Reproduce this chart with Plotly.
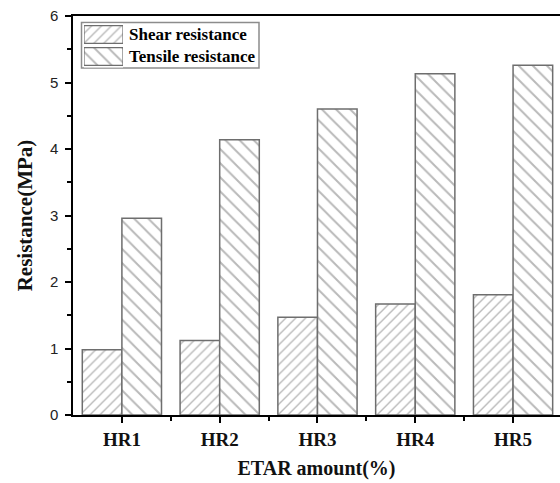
import plotly.graph_objects as go

# Resistance measured for each ETAR dosage
categories = ["HR1", "HR2", "HR3", "HR4", "HR5"]
series_names = ["Shear resistance", "Tensile resistance"]
shear = [0.98, 1.12, 1.47, 1.67, 1.81]
tensile = [2.96, 4.14, 4.60, 5.13, 5.26]
y_ticks = [0, 1, 2, 3, 4, 5, 6]

W, H = 560, 483
ML, MR, MT, MB = 73, 0, 16, 68
PW, PH = W - ML - MR, H - MT - MB

SERIF = "Liberation Serif"
SANS = "Liberation Sans"
EDGE = "#6e6e6e"
HATCH = "#747474"

styles = [
    dict(shape="/", size=7),
    dict(shape="\\", size=10),
]

idx = list(range(len(categories)))

fig = go.Figure()
for name, vals, st in zip(series_names, [shear, tensile], styles):
    fig.add_bar(
        x=idx, y=vals, name=name, showlegend=False,
        marker=dict(
            color="white",
            line=dict(color=EDGE, width=1.5),
            pattern=dict(shape=st["shape"], fgcolor=HATCH, bgcolor="white",
                         size=st["size"], solidity=0.2),
        ),
        xaxis="x", yaxis="y",
    )

# Legend swatches: wide hatched boxes drawn on a small inset axis
def px_x(p):
    return (p - ML) / PW


def px_y(p):
    return (H - MB - p) / PH


for i, (name, st) in enumerate(zip(series_names, styles)):
    fig.add_bar(
        x=[1], y=[i], base=0, orientation="h", width=0.8, showlegend=False,
        hoverinfo="skip",
        marker=dict(
            color="white",
            line=dict(color=EDGE, width=1.2),
            pattern=dict(shape=st["shape"], fgcolor=HATCH, bgcolor="white",
                         size=st["size"], solidity=0.2),
        ),
        xaxis="x2", yaxis="y2",
    )
    fig.add_annotation(
        xref="paper", yref="paper", x=px_x(127), y=px_y(34 + i * 22.5),
        xanchor="left", yanchor="middle", showarrow=False, text=name,
        font=dict(family=SERIF, size=17, color="black", weight="bold"),
    )

fig.add_shape(
    type="rect", xref="paper", yref="paper", layer="below",
    x0=px_x(81.5), x1=px_x(259), y0=px_y(68), y1=px_y(22.5),
    line=dict(color="#8c8c8c", width=1.5), fillcolor="white",
)

fig.update_layout(
    width=W, height=H,
    margin=dict(l=ML, r=MR, t=MT, b=MB, pad=0),
    paper_bgcolor="white", plot_bgcolor="white",
    barmode="group", bargap=0.19, bargroupgap=0,
    showlegend=False,
    xaxis=dict(
        range=[-0.5, 4.48], tickmode="array", tickvals=idx, ticktext=categories,
        ticks="outside", ticklen=6, tickwidth=1.5, tickcolor="black",
        showline=True, linecolor="black", linewidth=1.5, mirror=True,
        showgrid=False, zeroline=False, automargin=False,
        tickfont=dict(family=SERIF, size=19, color="#111", weight="bold"),
        minor=dict(tickmode="array", tickvals=[i + 0.5 for i in idx[:-1]],
                   ticks="outside", ticklen=4, tickwidth=1.5, tickcolor="black"),
        title=dict(text="ETAR amount(%)", standoff=12,
                   font=dict(family=SERIF, size=20, color="#111", weight="bold")),
    ),
    yaxis=dict(
        range=[0, 6], tickmode="array", tickvals=y_ticks,
        ticks="outside", ticklen=6, tickwidth=1.5, tickcolor="black",
        showline=True, linecolor="black", linewidth=1.5, mirror=False,
        showgrid=False, zeroline=False, automargin=False,
        ticklabelstandoff=4,
        tickfont=dict(family=SANS, size=15, color="#222"),
        minor=dict(dtick=0.5, tick0=0, ticks="outside", ticklen=4,
                   tickwidth=1.5, tickcolor="black"),
        title=dict(text="Resistance(MPa)", standoff=12,
                   font=dict(family=SERIF, size=21, color="#111", weight="bold")),
    ),
    xaxis2=dict(domain=[px_x(84), px_x(123)], range=[0, 1], anchor="y2",
                visible=False, fixedrange=True),
    yaxis2=dict(domain=[px_y(67.5), px_y(23.5)], range=[1.5, -0.5], anchor="x2",
                visible=False, fixedrange=True),
)

fig.write_html("out.html")
